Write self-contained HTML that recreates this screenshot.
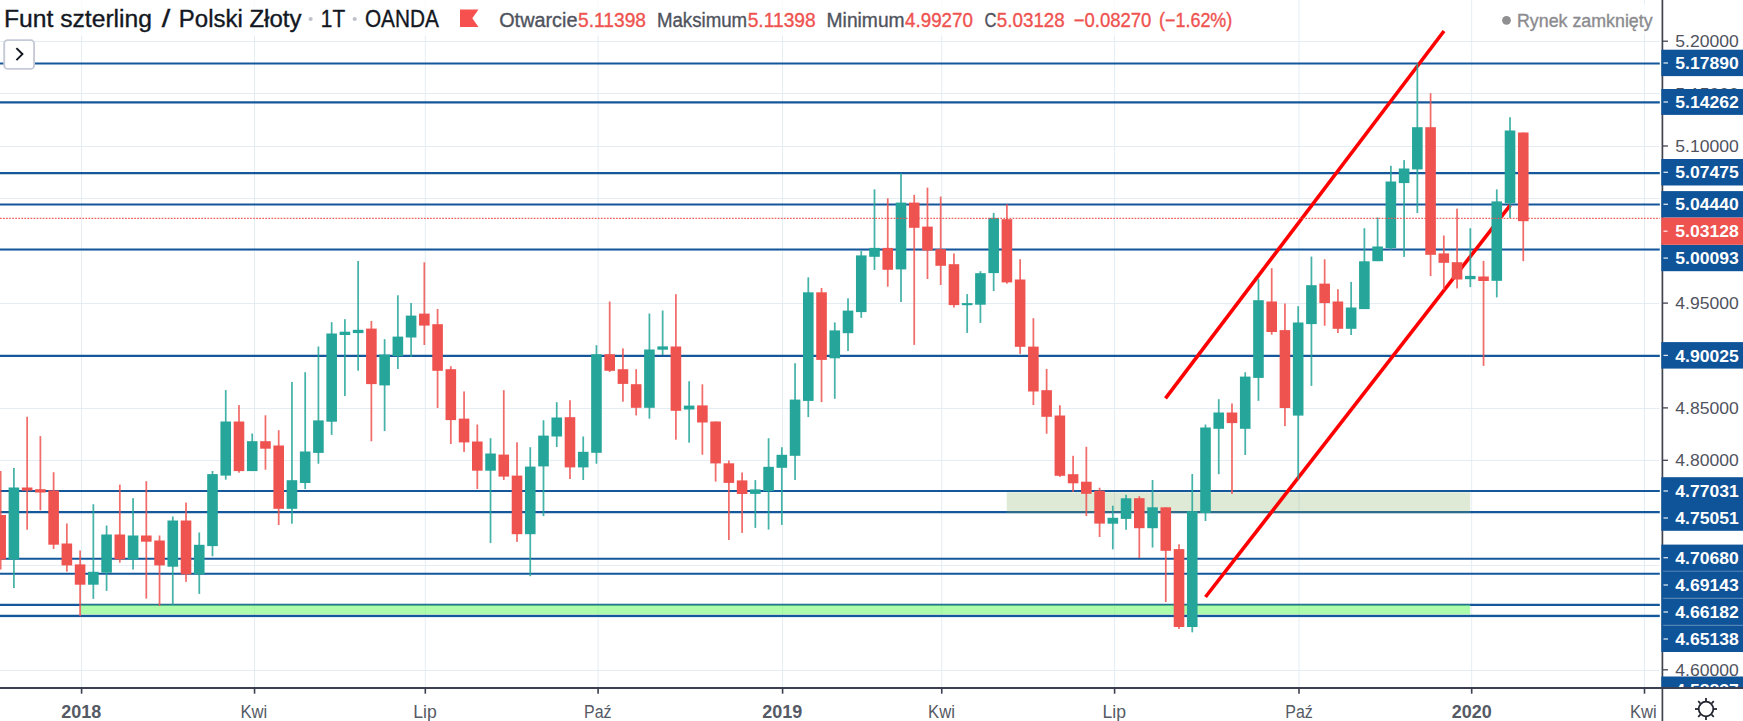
<!DOCTYPE html>
<html lang="pl"><head><meta charset="utf-8"><title>Funt szterling / Polski Złoty</title>
<style>html,body{margin:0;padding:0;background:#fff;overflow:hidden}svg{display:block}text{font-family:"Liberation Sans",sans-serif;}</style></head><body>
<svg width="1743" height="721" viewBox="0 0 1743 721">
<rect width="1743" height="721" fill="#fff"/>
<g stroke="#e4edf4" stroke-width="1">
<line x1="0" y1="41.5" x2="1659.5" y2="41.5"/>
<line x1="0" y1="93.5" x2="1659.5" y2="93.5"/>
<line x1="0" y1="146.5" x2="1659.5" y2="146.5"/>
<line x1="0" y1="198.5" x2="1659.5" y2="198.5"/>
<line x1="0" y1="250.5" x2="1659.5" y2="250.5"/>
<line x1="0" y1="303.5" x2="1659.5" y2="303.5"/>
<line x1="0" y1="355.5" x2="1659.5" y2="355.5"/>
<line x1="0" y1="408.5" x2="1659.5" y2="408.5"/>
<line x1="0" y1="460.5" x2="1659.5" y2="460.5"/>
<line x1="0" y1="512.5" x2="1659.5" y2="512.5"/>
<line x1="0" y1="565.5" x2="1659.5" y2="565.5"/>
<line x1="0" y1="617.5" x2="1659.5" y2="617.5"/>
<line x1="0" y1="670.5" x2="1659.5" y2="670.5"/>
<line x1="81.6" y1="0" x2="81.6" y2="688"/>
<line x1="254.55" y1="0" x2="254.55" y2="688"/>
<line x1="425.3" y1="0" x2="425.3" y2="688"/>
<line x1="598.1" y1="0" x2="598.1" y2="688"/>
<line x1="782.6" y1="0" x2="782.6" y2="688"/>
<line x1="941.75" y1="0" x2="941.75" y2="688"/>
<line x1="1114.6" y1="0" x2="1114.6" y2="688"/>
<line x1="1299.0" y1="0" x2="1299.0" y2="688"/>
<line x1="1471.7" y1="0" x2="1471.7" y2="688"/>
<line x1="1644.5" y1="0" x2="1644.5" y2="688"/>
</g>
<g stroke="#14579b" stroke-width="2.1">
<line x1="0" y1="63.5" x2="1659.8" y2="63.5"/>
<line x1="0" y1="102.4" x2="1659.8" y2="102.4"/>
<line x1="0" y1="173.1" x2="1659.8" y2="173.1"/>
<line x1="0" y1="204.5" x2="1659.8" y2="204.5"/>
<line x1="0" y1="249.5" x2="1659.8" y2="249.5"/>
<line x1="0" y1="355.9" x2="1659.8" y2="355.9"/>
<line x1="0" y1="491.0" x2="1659.8" y2="491.0"/>
<line x1="0" y1="512.1" x2="1659.8" y2="512.1"/>
<line x1="0" y1="558.7" x2="1659.8" y2="558.7"/>
<line x1="0" y1="573.8" x2="1659.8" y2="573.8"/>
<line x1="0" y1="604.9" x2="1659.8" y2="604.9"/>
<line x1="0" y1="615.9" x2="1659.8" y2="615.9"/>
</g>
<rect x="1006.7" y="492.3" width="463.5" height="20.9" fill="rgb(127,171,91)" fill-opacity="0.25"/>
<rect x="81" y="604.7" width="1389.2" height="9.7" fill="rgb(118,248,115)" fill-opacity="0.6"/>
<g stroke="#ff0000" stroke-width="3.6" stroke-linecap="butt">
<line x1="1165.5" y1="398.3" x2="1444" y2="31"/>
<line x1="1205.5" y1="597" x2="1510.3" y2="205.1"/>
</g>
<g>
<rect x="-0.21" y="471.0" width="1.75" height="98.5" fill="#ef5350" fill-opacity="0.85"/><rect x="-4.64" y="515.0" width="10.6" height="44.6" fill="#ef5350"/>
<rect x="13.03" y="468.0" width="1.75" height="120.0" fill="#26a69a" fill-opacity="0.85"/><rect x="8.60" y="487.5" width="10.6" height="72.1" fill="#26a69a"/>
<rect x="26.27" y="416.8" width="1.75" height="112.9" fill="#ef5350" fill-opacity="0.85"/><rect x="21.84" y="487.5" width="10.6" height="3.1" fill="#ef5350"/>
<rect x="39.51" y="436.1" width="1.75" height="74.2" fill="#ef5350" fill-opacity="0.85"/><rect x="35.08" y="489.2" width="10.6" height="3.3" fill="#ef5350"/>
<rect x="52.74" y="472.2" width="1.75" height="76.8" fill="#ef5350" fill-opacity="0.85"/><rect x="48.32" y="490.5" width="10.6" height="54.2" fill="#ef5350"/>
<rect x="65.98" y="523.5" width="1.75" height="48.1" fill="#ef5350" fill-opacity="0.85"/><rect x="61.56" y="543.5" width="10.6" height="21.9" fill="#ef5350"/>
<rect x="79.23" y="550.5" width="1.75" height="65.7" fill="#ef5350" fill-opacity="0.85"/><rect x="74.80" y="564.4" width="10.6" height="20.3" fill="#ef5350"/>
<rect x="92.47" y="504.2" width="1.75" height="94.7" fill="#26a69a" fill-opacity="0.85"/><rect x="88.04" y="571.8" width="10.6" height="12.9" fill="#26a69a"/>
<rect x="105.71" y="525.5" width="1.75" height="65.4" fill="#26a69a" fill-opacity="0.85"/><rect x="101.28" y="534.5" width="10.6" height="38.2" fill="#26a69a"/>
<rect x="118.95" y="484.6" width="1.75" height="78.0" fill="#ef5350" fill-opacity="0.85"/><rect x="114.52" y="534.5" width="10.6" height="24.9" fill="#ef5350"/>
<rect x="132.19" y="498.2" width="1.75" height="71.4" fill="#26a69a" fill-opacity="0.85"/><rect x="127.76" y="535.5" width="10.6" height="23.9" fill="#26a69a"/>
<rect x="145.43" y="481.2" width="1.75" height="117.4" fill="#ef5350" fill-opacity="0.85"/><rect x="141.00" y="535.5" width="10.6" height="6.2" fill="#ef5350"/>
<rect x="158.67" y="535.5" width="1.75" height="70.4" fill="#ef5350" fill-opacity="0.85"/><rect x="154.24" y="540.5" width="10.6" height="24.9" fill="#ef5350"/>
<rect x="171.91" y="516.5" width="1.75" height="88.7" fill="#26a69a" fill-opacity="0.85"/><rect x="167.48" y="520.5" width="10.6" height="46.2" fill="#26a69a"/>
<rect x="185.15" y="502.5" width="1.75" height="79.4" fill="#ef5350" fill-opacity="0.85"/><rect x="180.72" y="520.5" width="10.6" height="53.9" fill="#ef5350"/>
<rect x="198.39" y="532.5" width="1.75" height="61.4" fill="#26a69a" fill-opacity="0.85"/><rect x="193.96" y="544.8" width="10.6" height="29.6" fill="#26a69a"/>
<rect x="211.62" y="471.0" width="1.75" height="85.3" fill="#26a69a" fill-opacity="0.85"/><rect x="207.20" y="474.1" width="10.6" height="72.0" fill="#26a69a"/>
<rect x="224.87" y="390.1" width="1.75" height="89.6" fill="#26a69a" fill-opacity="0.85"/><rect x="220.44" y="421.5" width="10.6" height="54.1" fill="#26a69a"/>
<rect x="238.11" y="405.1" width="1.75" height="67.6" fill="#ef5350" fill-opacity="0.85"/><rect x="233.68" y="421.5" width="10.6" height="49.6" fill="#ef5350"/>
<rect x="251.34" y="433.5" width="1.75" height="37.5" fill="#26a69a" fill-opacity="0.85"/><rect x="246.92" y="441.2" width="10.6" height="29.9" fill="#26a69a"/>
<rect x="264.58" y="415.3" width="1.75" height="54.4" fill="#ef5350" fill-opacity="0.85"/><rect x="260.16" y="441.2" width="10.6" height="7.5" fill="#ef5350"/>
<rect x="277.82" y="430.2" width="1.75" height="94.8" fill="#ef5350" fill-opacity="0.85"/><rect x="273.40" y="445.5" width="10.6" height="63.3" fill="#ef5350"/>
<rect x="291.06" y="382.0" width="1.75" height="141.7" fill="#26a69a" fill-opacity="0.85"/><rect x="286.64" y="480.2" width="10.6" height="28.6" fill="#26a69a"/>
<rect x="304.31" y="372.2" width="1.75" height="116.9" fill="#26a69a" fill-opacity="0.85"/><rect x="299.88" y="451.5" width="10.6" height="31.5" fill="#26a69a"/>
<rect x="317.54" y="346.5" width="1.75" height="117.2" fill="#26a69a" fill-opacity="0.85"/><rect x="313.12" y="420.4" width="10.6" height="32.5" fill="#26a69a"/>
<rect x="330.78" y="322.2" width="1.75" height="112.7" fill="#26a69a" fill-opacity="0.85"/><rect x="326.36" y="333.5" width="10.6" height="88.2" fill="#26a69a"/>
<rect x="344.02" y="319.2" width="1.75" height="76.8" fill="#26a69a" fill-opacity="0.85"/><rect x="339.60" y="331.7" width="10.6" height="3.3" fill="#26a69a"/>
<rect x="357.26" y="261.0" width="1.75" height="109.7" fill="#26a69a" fill-opacity="0.85"/><rect x="352.84" y="329.8" width="10.6" height="3.3" fill="#26a69a"/>
<rect x="370.50" y="321.0" width="1.75" height="120.3" fill="#ef5350" fill-opacity="0.85"/><rect x="366.08" y="328.6" width="10.6" height="55.5" fill="#ef5350"/>
<rect x="383.75" y="339.2" width="1.75" height="91.9" fill="#26a69a" fill-opacity="0.85"/><rect x="379.32" y="354.5" width="10.6" height="30.9" fill="#26a69a"/>
<rect x="396.98" y="295.3" width="1.75" height="73.7" fill="#26a69a" fill-opacity="0.85"/><rect x="392.56" y="336.6" width="10.6" height="19.5" fill="#26a69a"/>
<rect x="410.22" y="303.0" width="1.75" height="54.0" fill="#26a69a" fill-opacity="0.85"/><rect x="405.80" y="315.6" width="10.6" height="21.9" fill="#26a69a"/>
<rect x="423.46" y="262.3" width="1.75" height="82.7" fill="#ef5350" fill-opacity="0.85"/><rect x="419.04" y="313.6" width="10.6" height="12.0" fill="#ef5350"/>
<rect x="436.70" y="309.0" width="1.75" height="99.0" fill="#ef5350" fill-opacity="0.85"/><rect x="432.28" y="324.2" width="10.6" height="46.6" fill="#ef5350"/>
<rect x="449.94" y="366.2" width="1.75" height="77.8" fill="#ef5350" fill-opacity="0.85"/><rect x="445.52" y="369.2" width="10.6" height="50.9" fill="#ef5350"/>
<rect x="463.19" y="391.4" width="1.75" height="60.5" fill="#ef5350" fill-opacity="0.85"/><rect x="458.76" y="418.6" width="10.6" height="23.8" fill="#ef5350"/>
<rect x="476.43" y="424.5" width="1.75" height="64.5" fill="#ef5350" fill-opacity="0.85"/><rect x="472.00" y="441.5" width="10.6" height="29.2" fill="#ef5350"/>
<rect x="489.66" y="438.2" width="1.75" height="104.9" fill="#26a69a" fill-opacity="0.85"/><rect x="485.24" y="453.5" width="10.6" height="17.2" fill="#26a69a"/>
<rect x="502.90" y="390.2" width="1.75" height="89.8" fill="#ef5350" fill-opacity="0.85"/><rect x="498.48" y="454.6" width="10.6" height="22.0" fill="#ef5350"/>
<rect x="516.14" y="442.3" width="1.75" height="99.6" fill="#ef5350" fill-opacity="0.85"/><rect x="511.72" y="475.6" width="10.6" height="58.6" fill="#ef5350"/>
<rect x="529.38" y="447.2" width="1.75" height="129.0" fill="#26a69a" fill-opacity="0.85"/><rect x="524.96" y="466.6" width="10.6" height="67.6" fill="#26a69a"/>
<rect x="542.62" y="420.2" width="1.75" height="95.9" fill="#26a69a" fill-opacity="0.85"/><rect x="538.20" y="435.6" width="10.6" height="30.8" fill="#26a69a"/>
<rect x="555.87" y="402.2" width="1.75" height="44.8" fill="#26a69a" fill-opacity="0.85"/><rect x="551.44" y="417.5" width="10.6" height="19.0" fill="#26a69a"/>
<rect x="569.11" y="400.2" width="1.75" height="78.8" fill="#ef5350" fill-opacity="0.85"/><rect x="564.68" y="417.2" width="10.6" height="50.2" fill="#ef5350"/>
<rect x="582.35" y="436.5" width="1.75" height="43.5" fill="#26a69a" fill-opacity="0.85"/><rect x="577.92" y="451.8" width="10.6" height="15.6" fill="#26a69a"/>
<rect x="595.59" y="345.2" width="1.75" height="118.5" fill="#26a69a" fill-opacity="0.85"/><rect x="591.16" y="354.2" width="10.6" height="98.6" fill="#26a69a"/>
<rect x="608.82" y="301.5" width="1.75" height="70.5" fill="#ef5350" fill-opacity="0.85"/><rect x="604.40" y="354.2" width="10.6" height="16.6" fill="#ef5350"/>
<rect x="622.06" y="348.4" width="1.75" height="53.3" fill="#ef5350" fill-opacity="0.85"/><rect x="617.64" y="369.2" width="10.6" height="14.7" fill="#ef5350"/>
<rect x="635.30" y="369.2" width="1.75" height="46.2" fill="#ef5350" fill-opacity="0.85"/><rect x="630.88" y="384.2" width="10.6" height="23.6" fill="#ef5350"/>
<rect x="648.54" y="313.5" width="1.75" height="105.2" fill="#26a69a" fill-opacity="0.85"/><rect x="644.12" y="349.5" width="10.6" height="58.3" fill="#26a69a"/>
<rect x="661.78" y="310.5" width="1.75" height="44.6" fill="#26a69a" fill-opacity="0.85"/><rect x="657.36" y="346.4" width="10.6" height="3.3" fill="#26a69a"/>
<rect x="675.02" y="294.2" width="1.75" height="145.5" fill="#ef5350" fill-opacity="0.85"/><rect x="670.60" y="346.5" width="10.6" height="64.3" fill="#ef5350"/>
<rect x="688.26" y="381.2" width="1.75" height="61.5" fill="#26a69a" fill-opacity="0.85"/><rect x="683.84" y="405.6" width="10.6" height="3.9" fill="#26a69a"/>
<rect x="701.50" y="384.3" width="1.75" height="70.4" fill="#ef5350" fill-opacity="0.85"/><rect x="697.08" y="405.4" width="10.6" height="17.1" fill="#ef5350"/>
<rect x="714.75" y="421.5" width="1.75" height="60.1" fill="#ef5350" fill-opacity="0.85"/><rect x="710.32" y="421.5" width="10.6" height="41.9" fill="#ef5350"/>
<rect x="727.99" y="460.5" width="1.75" height="79.5" fill="#ef5350" fill-opacity="0.85"/><rect x="723.56" y="463.3" width="10.6" height="19.6" fill="#ef5350"/>
<rect x="741.23" y="472.5" width="1.75" height="60.4" fill="#ef5350" fill-opacity="0.85"/><rect x="736.80" y="480.4" width="10.6" height="13.6" fill="#ef5350"/>
<rect x="754.47" y="480.1" width="1.75" height="47.8" fill="#26a69a" fill-opacity="0.85"/><rect x="750.04" y="489.4" width="10.6" height="4.5" fill="#26a69a"/>
<rect x="767.71" y="438.2" width="1.75" height="91.4" fill="#26a69a" fill-opacity="0.85"/><rect x="763.28" y="466.8" width="10.6" height="24.3" fill="#26a69a"/>
<rect x="780.94" y="447.2" width="1.75" height="77.7" fill="#26a69a" fill-opacity="0.85"/><rect x="776.52" y="454.8" width="10.6" height="13.0" fill="#26a69a"/>
<rect x="794.18" y="363.2" width="1.75" height="116.8" fill="#26a69a" fill-opacity="0.85"/><rect x="789.76" y="399.6" width="10.6" height="56.2" fill="#26a69a"/>
<rect x="807.42" y="277.3" width="1.75" height="139.8" fill="#26a69a" fill-opacity="0.85"/><rect x="803.00" y="292.3" width="10.6" height="108.6" fill="#26a69a"/>
<rect x="820.66" y="288.0" width="1.75" height="114.1" fill="#ef5350" fill-opacity="0.85"/><rect x="816.24" y="292.3" width="10.6" height="67.6" fill="#ef5350"/>
<rect x="833.90" y="322.4" width="1.75" height="76.4" fill="#26a69a" fill-opacity="0.85"/><rect x="829.48" y="330.4" width="10.6" height="27.9" fill="#26a69a"/>
<rect x="847.14" y="298.3" width="1.75" height="52.7" fill="#26a69a" fill-opacity="0.85"/><rect x="842.72" y="310.6" width="10.6" height="22.6" fill="#26a69a"/>
<rect x="860.38" y="250.9" width="1.75" height="67.0" fill="#26a69a" fill-opacity="0.85"/><rect x="855.96" y="255.4" width="10.6" height="56.7" fill="#26a69a"/>
<rect x="873.62" y="189.3" width="1.75" height="80.7" fill="#26a69a" fill-opacity="0.85"/><rect x="869.20" y="247.9" width="10.6" height="8.9" fill="#26a69a"/>
<rect x="886.87" y="198.3" width="1.75" height="88.4" fill="#ef5350" fill-opacity="0.85"/><rect x="882.44" y="247.9" width="10.6" height="21.9" fill="#ef5350"/>
<rect x="900.11" y="173.3" width="1.75" height="128.7" fill="#26a69a" fill-opacity="0.85"/><rect x="895.68" y="202.6" width="10.6" height="66.8" fill="#26a69a"/>
<rect x="913.35" y="194.9" width="1.75" height="150.0" fill="#ef5350" fill-opacity="0.85"/><rect x="908.92" y="202.6" width="10.6" height="25.2" fill="#ef5350"/>
<rect x="926.59" y="187.6" width="1.75" height="91.4" fill="#ef5350" fill-opacity="0.85"/><rect x="922.16" y="226.6" width="10.6" height="23.9" fill="#ef5350"/>
<rect x="939.83" y="196.6" width="1.75" height="88.4" fill="#ef5350" fill-opacity="0.85"/><rect x="935.40" y="249.2" width="10.6" height="16.6" fill="#ef5350"/>
<rect x="953.06" y="253.5" width="1.75" height="54.1" fill="#ef5350" fill-opacity="0.85"/><rect x="948.64" y="264.2" width="10.6" height="40.9" fill="#ef5350"/>
<rect x="966.30" y="294.1" width="1.75" height="38.8" fill="#26a69a" fill-opacity="0.85"/><rect x="961.88" y="303.1" width="10.6" height="2.1" fill="#26a69a"/>
<rect x="979.54" y="271.2" width="1.75" height="51.7" fill="#26a69a" fill-opacity="0.85"/><rect x="975.12" y="273.2" width="10.6" height="31.5" fill="#26a69a"/>
<rect x="992.78" y="212.9" width="1.75" height="78.1" fill="#26a69a" fill-opacity="0.85"/><rect x="988.36" y="217.9" width="10.6" height="55.2" fill="#26a69a"/>
<rect x="1006.02" y="204.3" width="1.75" height="79.4" fill="#ef5350" fill-opacity="0.85"/><rect x="1001.60" y="219.2" width="10.6" height="63.2" fill="#ef5350"/>
<rect x="1019.26" y="259.2" width="1.75" height="94.7" fill="#ef5350" fill-opacity="0.85"/><rect x="1014.84" y="279.5" width="10.6" height="67.3" fill="#ef5350"/>
<rect x="1032.51" y="318.2" width="1.75" height="86.8" fill="#ef5350" fill-opacity="0.85"/><rect x="1028.08" y="346.6" width="10.6" height="44.9" fill="#ef5350"/>
<rect x="1045.75" y="368.9" width="1.75" height="64.8" fill="#ef5350" fill-opacity="0.85"/><rect x="1041.32" y="390.2" width="10.6" height="26.6" fill="#ef5350"/>
<rect x="1058.99" y="405.2" width="1.75" height="71.7" fill="#ef5350" fill-opacity="0.85"/><rect x="1054.56" y="415.5" width="10.6" height="60.3" fill="#ef5350"/>
<rect x="1072.23" y="455.8" width="1.75" height="36.1" fill="#ef5350" fill-opacity="0.85"/><rect x="1067.80" y="474.2" width="10.6" height="9.1" fill="#ef5350"/>
<rect x="1085.47" y="446.8" width="1.75" height="69.2" fill="#ef5350" fill-opacity="0.85"/><rect x="1081.04" y="481.7" width="10.6" height="12.1" fill="#ef5350"/>
<rect x="1098.71" y="487.7" width="1.75" height="49.3" fill="#ef5350" fill-opacity="0.85"/><rect x="1094.28" y="490.7" width="10.6" height="32.9" fill="#ef5350"/>
<rect x="1111.95" y="505.7" width="1.75" height="43.6" fill="#26a69a" fill-opacity="0.85"/><rect x="1107.52" y="517.8" width="10.6" height="5.9" fill="#26a69a"/>
<rect x="1125.19" y="494.8" width="1.75" height="35.0" fill="#26a69a" fill-opacity="0.85"/><rect x="1120.76" y="498.3" width="10.6" height="20.6" fill="#26a69a"/>
<rect x="1138.43" y="496.2" width="1.75" height="61.8" fill="#ef5350" fill-opacity="0.85"/><rect x="1134.00" y="498.2" width="10.6" height="30.0" fill="#ef5350"/>
<rect x="1151.67" y="480.0" width="1.75" height="67.5" fill="#26a69a" fill-opacity="0.85"/><rect x="1147.24" y="507.3" width="10.6" height="20.9" fill="#26a69a"/>
<rect x="1164.91" y="507.3" width="1.75" height="94.7" fill="#ef5350" fill-opacity="0.85"/><rect x="1160.48" y="507.3" width="10.6" height="43.5" fill="#ef5350"/>
<rect x="1178.15" y="544.3" width="1.75" height="84.6" fill="#ef5350" fill-opacity="0.85"/><rect x="1173.72" y="549.1" width="10.6" height="77.9" fill="#ef5350"/>
<rect x="1191.39" y="474.0" width="1.75" height="158.3" fill="#26a69a" fill-opacity="0.85"/><rect x="1186.96" y="511.2" width="10.6" height="115.8" fill="#26a69a"/>
<rect x="1204.62" y="424.5" width="1.75" height="96.5" fill="#26a69a" fill-opacity="0.85"/><rect x="1200.20" y="427.5" width="10.6" height="85.5" fill="#26a69a"/>
<rect x="1217.87" y="399.2" width="1.75" height="75.0" fill="#26a69a" fill-opacity="0.85"/><rect x="1213.44" y="412.5" width="10.6" height="16.3" fill="#26a69a"/>
<rect x="1231.11" y="403.5" width="1.75" height="90.4" fill="#ef5350" fill-opacity="0.85"/><rect x="1226.68" y="412.5" width="10.6" height="10.6" fill="#ef5350"/>
<rect x="1244.35" y="372.3" width="1.75" height="82.7" fill="#26a69a" fill-opacity="0.85"/><rect x="1239.92" y="376.6" width="10.6" height="52.2" fill="#26a69a"/>
<rect x="1257.59" y="279.2" width="1.75" height="121.6" fill="#26a69a" fill-opacity="0.85"/><rect x="1253.16" y="300.2" width="10.6" height="77.7" fill="#26a69a"/>
<rect x="1270.83" y="268.2" width="1.75" height="66.5" fill="#ef5350" fill-opacity="0.85"/><rect x="1266.40" y="301.5" width="10.6" height="30.5" fill="#ef5350"/>
<rect x="1284.07" y="303.5" width="1.75" height="122.6" fill="#ef5350" fill-opacity="0.85"/><rect x="1279.64" y="330.1" width="10.6" height="77.9" fill="#ef5350"/>
<rect x="1297.31" y="306.2" width="1.75" height="173.3" fill="#26a69a" fill-opacity="0.85"/><rect x="1292.88" y="322.5" width="10.6" height="93.1" fill="#26a69a"/>
<rect x="1310.55" y="256.6" width="1.75" height="129.3" fill="#26a69a" fill-opacity="0.85"/><rect x="1306.12" y="285.2" width="10.6" height="38.9" fill="#26a69a"/>
<rect x="1323.79" y="259.3" width="1.75" height="66.4" fill="#ef5350" fill-opacity="0.85"/><rect x="1319.36" y="283.6" width="10.6" height="19.5" fill="#ef5350"/>
<rect x="1337.03" y="289.2" width="1.75" height="43.8" fill="#ef5350" fill-opacity="0.85"/><rect x="1332.60" y="301.5" width="10.6" height="27.3" fill="#ef5350"/>
<rect x="1350.27" y="281.9" width="1.75" height="53.1" fill="#26a69a" fill-opacity="0.85"/><rect x="1345.84" y="307.5" width="10.6" height="21.3" fill="#26a69a"/>
<rect x="1363.51" y="228.2" width="1.75" height="80.8" fill="#26a69a" fill-opacity="0.85"/><rect x="1359.08" y="261.3" width="10.6" height="47.8" fill="#26a69a"/>
<rect x="1376.75" y="217.4" width="1.75" height="43.7" fill="#26a69a" fill-opacity="0.85"/><rect x="1372.32" y="246.5" width="10.6" height="14.7" fill="#26a69a"/>
<rect x="1389.99" y="165.8" width="1.75" height="84.0" fill="#26a69a" fill-opacity="0.85"/><rect x="1385.56" y="181.5" width="10.6" height="66.6" fill="#26a69a"/>
<rect x="1403.23" y="160.1" width="1.75" height="96.8" fill="#26a69a" fill-opacity="0.85"/><rect x="1398.80" y="168.5" width="10.6" height="14.6" fill="#26a69a"/>
<rect x="1416.47" y="63.3" width="1.75" height="149.7" fill="#26a69a" fill-opacity="0.85"/><rect x="1412.04" y="127.2" width="10.6" height="42.2" fill="#26a69a"/>
<rect x="1429.71" y="93.2" width="1.75" height="182.9" fill="#ef5350" fill-opacity="0.85"/><rect x="1425.28" y="127.2" width="10.6" height="127.6" fill="#ef5350"/>
<rect x="1442.95" y="235.5" width="1.75" height="54.2" fill="#ef5350" fill-opacity="0.85"/><rect x="1438.52" y="253.4" width="10.6" height="9.4" fill="#ef5350"/>
<rect x="1456.19" y="208.7" width="1.75" height="79.7" fill="#ef5350" fill-opacity="0.85"/><rect x="1451.76" y="262.2" width="10.6" height="17.3" fill="#ef5350"/>
<rect x="1469.43" y="228.2" width="1.75" height="58.9" fill="#26a69a" fill-opacity="0.85"/><rect x="1465.00" y="275.9" width="10.6" height="3.3" fill="#26a69a"/>
<rect x="1482.67" y="260.9" width="1.75" height="105.0" fill="#ef5350" fill-opacity="0.85"/><rect x="1478.24" y="276.5" width="10.6" height="4.5" fill="#ef5350"/>
<rect x="1495.91" y="189.4" width="1.75" height="108.0" fill="#26a69a" fill-opacity="0.85"/><rect x="1491.48" y="201.4" width="10.6" height="79.4" fill="#26a69a"/>
<rect x="1509.15" y="117.2" width="1.75" height="100.8" fill="#26a69a" fill-opacity="0.85"/><rect x="1504.72" y="130.5" width="10.6" height="72.8" fill="#26a69a"/>
<rect x="1522.39" y="132.5" width="1.75" height="128.6" fill="#ef5350" fill-opacity="0.85"/><rect x="1517.96" y="132.5" width="10.6" height="88.7" fill="#ef5350"/>
</g>
<line x1="0" y1="218.4" x2="1659.8" y2="218.4" stroke="#ef5350" stroke-width="1.3" stroke-dasharray="1.7 1.35" stroke-opacity="0.92"/>
<rect x="0" y="688" width="1743" height="33" fill="#fff"/>
<rect x="1661.3" y="0" width="82" height="688" fill="#fff"/>
<line x1="1662" y1="41.2" x2="1668" y2="41.2" stroke="#40444f" stroke-width="1.3"/>
<text x="1675.3" y="47.3" font-size="17.4"  fill="#50535e" textLength="63.5" lengthAdjust="spacingAndGlyphs">5.20000</text>
<line x1="1662" y1="93.6" x2="1668" y2="93.6" stroke="#40444f" stroke-width="1.3"/>
<text x="1675.3" y="99.7" font-size="17.4"  fill="#50535e" textLength="63.5" lengthAdjust="spacingAndGlyphs">5.15000</text>
<line x1="1662" y1="146.0" x2="1668" y2="146.0" stroke="#40444f" stroke-width="1.3"/>
<text x="1675.3" y="152.1" font-size="17.4"  fill="#50535e" textLength="63.5" lengthAdjust="spacingAndGlyphs">5.10000</text>
<line x1="1662" y1="198.4" x2="1668" y2="198.4" stroke="#40444f" stroke-width="1.3"/>
<text x="1675.3" y="204.5" font-size="17.4"  fill="#50535e" textLength="63.5" lengthAdjust="spacingAndGlyphs">5.05000</text>
<line x1="1662" y1="250.7" x2="1668" y2="250.7" stroke="#40444f" stroke-width="1.3"/>
<text x="1675.3" y="256.8" font-size="17.4"  fill="#50535e" textLength="63.5" lengthAdjust="spacingAndGlyphs">5.00000</text>
<line x1="1662" y1="303.1" x2="1668" y2="303.1" stroke="#40444f" stroke-width="1.3"/>
<text x="1675.3" y="309.2" font-size="17.4"  fill="#50535e" textLength="63.5" lengthAdjust="spacingAndGlyphs">4.95000</text>
<line x1="1662" y1="355.5" x2="1668" y2="355.5" stroke="#40444f" stroke-width="1.3"/>
<text x="1675.3" y="361.6" font-size="17.4"  fill="#50535e" textLength="63.5" lengthAdjust="spacingAndGlyphs">4.90000</text>
<line x1="1662" y1="407.9" x2="1668" y2="407.9" stroke="#40444f" stroke-width="1.3"/>
<text x="1675.3" y="414.0" font-size="17.4"  fill="#50535e" textLength="63.5" lengthAdjust="spacingAndGlyphs">4.85000</text>
<line x1="1662" y1="460.3" x2="1668" y2="460.3" stroke="#40444f" stroke-width="1.3"/>
<text x="1675.3" y="466.4" font-size="17.4"  fill="#50535e" textLength="63.5" lengthAdjust="spacingAndGlyphs">4.80000</text>
<line x1="1662" y1="512.7" x2="1668" y2="512.7" stroke="#40444f" stroke-width="1.3"/>
<text x="1675.3" y="518.8" font-size="17.4"  fill="#50535e" textLength="63.5" lengthAdjust="spacingAndGlyphs">4.75000</text>
<line x1="1662" y1="565.1" x2="1668" y2="565.1" stroke="#40444f" stroke-width="1.3"/>
<text x="1675.3" y="571.2" font-size="17.4"  fill="#50535e" textLength="63.5" lengthAdjust="spacingAndGlyphs">4.70000</text>
<line x1="1662" y1="617.4" x2="1668" y2="617.4" stroke="#40444f" stroke-width="1.3"/>
<text x="1675.3" y="623.5" font-size="17.4"  fill="#50535e" textLength="63.5" lengthAdjust="spacingAndGlyphs">4.65000</text>
<line x1="1662" y1="669.8" x2="1668" y2="669.8" stroke="#40444f" stroke-width="1.3"/>
<text x="1675.3" y="675.9" font-size="17.4"  fill="#50535e" textLength="63.5" lengthAdjust="spacingAndGlyphs">4.60000</text>
<line x1="1662.4" y1="0" x2="1662.4" y2="721" stroke="#40444f" stroke-width="1.7"/>
<rect x="1661.3" y="49.7" width="82" height="26.4" fill="#0f5499"/>
<rect x="1661.3" y="89" width="82" height="25.9" fill="#0f5499"/>
<rect x="1661.3" y="159" width="82" height="26.5" fill="#0f5499"/>
<rect x="1661.3" y="191.1" width="82" height="26.5" fill="#0f5499"/>
<rect x="1661.3" y="244.8" width="82" height="26.4" fill="#0f5499"/>
<rect x="1661.3" y="342.1" width="82" height="26.5" fill="#0f5499"/>
<rect x="1661.3" y="477.2" width="82" height="26.8" fill="#0f5499"/>
<rect x="1661.3" y="504" width="82" height="26.8" fill="#0f5499"/>
<rect x="1661.3" y="544.6" width="82" height="26.5" fill="#0f5499"/>
<rect x="1661.3" y="571.1" width="82" height="27.1" fill="#0f5499"/>
<rect x="1661.3" y="598.2" width="82" height="27.0" fill="#0f5499"/>
<rect x="1661.3" y="625.2" width="82" height="26.8" fill="#0f5499"/>
<rect x="1661.3" y="676.5" width="82" height="11.5" fill="#0f5499"/>
<line x1="1663" y1="571.1" x2="1743" y2="571.1" stroke="#fff" stroke-opacity="0.22" stroke-width="1"/>
<line x1="1663" y1="598.2" x2="1743" y2="598.2" stroke="#fff" stroke-opacity="0.22" stroke-width="1"/>
<line x1="1663" y1="625.2" x2="1743" y2="625.2" stroke="#fff" stroke-opacity="0.22" stroke-width="1"/>
<line x1="1663.5" y1="63.0" x2="1668" y2="63.0" stroke="#fff" stroke-opacity="0.85" stroke-width="1.3"/>
<text x="1675.3" y="69.1" font-size="17.4" font-weight="700" fill="#fff" textLength="63.5" lengthAdjust="spacingAndGlyphs">5.17890</text>
<line x1="1663.5" y1="102.0" x2="1668" y2="102.0" stroke="#fff" stroke-opacity="0.85" stroke-width="1.3"/>
<text x="1675.3" y="108.1" font-size="17.4" font-weight="700" fill="#fff" textLength="63.5" lengthAdjust="spacingAndGlyphs">5.14262</text>
<line x1="1663.5" y1="172.3" x2="1668" y2="172.3" stroke="#fff" stroke-opacity="0.85" stroke-width="1.3"/>
<text x="1675.3" y="178.4" font-size="17.4" font-weight="700" fill="#fff" textLength="63.5" lengthAdjust="spacingAndGlyphs">5.07475</text>
<line x1="1663.5" y1="204.3" x2="1668" y2="204.3" stroke="#fff" stroke-opacity="0.85" stroke-width="1.3"/>
<text x="1675.3" y="210.4" font-size="17.4" font-weight="700" fill="#fff" textLength="63.5" lengthAdjust="spacingAndGlyphs">5.04440</text>
<line x1="1663.5" y1="258.1" x2="1668" y2="258.1" stroke="#fff" stroke-opacity="0.85" stroke-width="1.3"/>
<text x="1675.3" y="264.2" font-size="17.4" font-weight="700" fill="#fff" textLength="63.5" lengthAdjust="spacingAndGlyphs">5.00093</text>
<line x1="1663.5" y1="355.4" x2="1668" y2="355.4" stroke="#fff" stroke-opacity="0.85" stroke-width="1.3"/>
<text x="1675.3" y="361.5" font-size="17.4" font-weight="700" fill="#fff" textLength="63.5" lengthAdjust="spacingAndGlyphs">4.90025</text>
<line x1="1663.5" y1="491.0" x2="1668" y2="491.0" stroke="#fff" stroke-opacity="0.85" stroke-width="1.3"/>
<text x="1675.3" y="497.1" font-size="17.4" font-weight="700" fill="#fff" textLength="63.5" lengthAdjust="spacingAndGlyphs">4.77031</text>
<line x1="1663.5" y1="518.0" x2="1668" y2="518.0" stroke="#fff" stroke-opacity="0.85" stroke-width="1.3"/>
<text x="1675.3" y="524.1" font-size="17.4" font-weight="700" fill="#fff" textLength="63.5" lengthAdjust="spacingAndGlyphs">4.75051</text>
<line x1="1663.5" y1="557.7" x2="1668" y2="557.7" stroke="#fff" stroke-opacity="0.85" stroke-width="1.3"/>
<text x="1675.3" y="563.8" font-size="17.4" font-weight="700" fill="#fff" textLength="63.5" lengthAdjust="spacingAndGlyphs">4.70680</text>
<line x1="1663.5" y1="585.0" x2="1668" y2="585.0" stroke="#fff" stroke-opacity="0.85" stroke-width="1.3"/>
<text x="1675.3" y="591.1" font-size="17.4" font-weight="700" fill="#fff" textLength="63.5" lengthAdjust="spacingAndGlyphs">4.69143</text>
<line x1="1663.5" y1="612.0" x2="1668" y2="612.0" stroke="#fff" stroke-opacity="0.85" stroke-width="1.3"/>
<text x="1675.3" y="618.1" font-size="17.4" font-weight="700" fill="#fff" textLength="63.5" lengthAdjust="spacingAndGlyphs">4.66182</text>
<line x1="1663.5" y1="639.0" x2="1668" y2="639.0" stroke="#fff" stroke-opacity="0.85" stroke-width="1.3"/>
<text x="1675.3" y="645.1" font-size="17.4" font-weight="700" fill="#fff" textLength="63.5" lengthAdjust="spacingAndGlyphs">4.65138</text>
<clipPath id="cb"><rect x="1661" y="676" width="82" height="11.6"/></clipPath><g clip-path="url(#cb)">
<text x="1675.3" y="696.1" font-size="17.4" font-weight="700" fill="#fff" textLength="63.5" lengthAdjust="spacingAndGlyphs">4.58837</text>
</g>
<rect x="1661.3" y="217.6" width="82" height="27.2" fill="#ef5350"/>
<line x1="1663.5" y1="231.2" x2="1667.5" y2="231.2" stroke="#fff" stroke-opacity="0.85" stroke-width="1.3"/>
<text x="1675.3" y="237.3" font-size="17.4" font-weight="700" fill="#fff" textLength="63.5" lengthAdjust="spacingAndGlyphs">5.03128</text>
<line x1="0" y1="688.0" x2="1743" y2="688.0" stroke="#3b3f4f" stroke-width="2"/>
<line x1="81.6" y1="688" x2="81.6" y2="693.7" stroke="#3b3f4f" stroke-width="1.6"/>
<text x="81.3" y="717.9" font-size="17.5" font-weight="700" fill="#555a64" text-anchor="middle" textLength="40" lengthAdjust="spacingAndGlyphs">2018</text>
<line x1="254.55" y1="688" x2="254.55" y2="693.7" stroke="#3b3f4f" stroke-width="1.6"/>
<text x="253.8" y="717.9" font-size="17.5"  fill="#555a64" text-anchor="middle" textLength="26.8" lengthAdjust="spacingAndGlyphs">Kwi</text>
<line x1="425.3" y1="688" x2="425.3" y2="693.7" stroke="#3b3f4f" stroke-width="1.6"/>
<text x="425" y="717.9" font-size="17.5"  fill="#555a64" text-anchor="middle" textLength="23.5" lengthAdjust="spacingAndGlyphs">Lip</text>
<line x1="598.1" y1="688" x2="598.1" y2="693.7" stroke="#3b3f4f" stroke-width="1.6"/>
<text x="597.8" y="717.9" font-size="17.5"  fill="#555a64" text-anchor="middle" textLength="27.5" lengthAdjust="spacingAndGlyphs">Paź</text>
<line x1="782.6" y1="688" x2="782.6" y2="693.7" stroke="#3b3f4f" stroke-width="1.6"/>
<text x="782.2" y="717.9" font-size="17.5" font-weight="700" fill="#555a64" text-anchor="middle" textLength="40" lengthAdjust="spacingAndGlyphs">2019</text>
<line x1="941.75" y1="688" x2="941.75" y2="693.7" stroke="#3b3f4f" stroke-width="1.6"/>
<text x="941.5" y="717.9" font-size="17.5"  fill="#555a64" text-anchor="middle" textLength="26.8" lengthAdjust="spacingAndGlyphs">Kwi</text>
<line x1="1114.6" y1="688" x2="1114.6" y2="693.7" stroke="#3b3f4f" stroke-width="1.6"/>
<text x="1114.2" y="717.9" font-size="17.5"  fill="#555a64" text-anchor="middle" textLength="23.5" lengthAdjust="spacingAndGlyphs">Lip</text>
<line x1="1299.0" y1="688" x2="1299.0" y2="693.7" stroke="#3b3f4f" stroke-width="1.6"/>
<text x="1299" y="717.9" font-size="17.5"  fill="#555a64" text-anchor="middle" textLength="27.5" lengthAdjust="spacingAndGlyphs">Paź</text>
<line x1="1471.7" y1="688" x2="1471.7" y2="693.7" stroke="#3b3f4f" stroke-width="1.6"/>
<text x="1471.7" y="717.9" font-size="17.5" font-weight="700" fill="#555a64" text-anchor="middle" textLength="40" lengthAdjust="spacingAndGlyphs">2020</text>
<line x1="1644.5" y1="688" x2="1644.5" y2="693.7" stroke="#3b3f4f" stroke-width="1.6"/>
<text x="1643.3" y="717.9" font-size="17.5"  fill="#555a64" text-anchor="middle" textLength="26.8" lengthAdjust="spacingAndGlyphs">Kwi</text>
<g stroke="#1e222d" stroke-width="1.75" fill="none" stroke-linecap="butt">
<circle cx="1706" cy="709" r="7.3"/>
<line x1="1714.00" y1="709.00" x2="1717.00" y2="709.00"/>
<line x1="1711.66" y1="714.66" x2="1713.78" y2="716.78"/>
<line x1="1706.00" y1="717.00" x2="1706.00" y2="720.00"/>
<line x1="1700.34" y1="714.66" x2="1698.22" y2="716.78"/>
<line x1="1698.00" y1="709.00" x2="1695.00" y2="709.00"/>
<line x1="1700.34" y1="703.34" x2="1698.22" y2="701.22"/>
<line x1="1706.00" y1="701.00" x2="1706.00" y2="698.00"/>
<line x1="1711.66" y1="703.34" x2="1713.78" y2="701.22"/>
</g>
<rect x="0" y="0" width="1240" height="36" fill="#fff" fill-opacity="0.75"/>
<rect x="1495" y="4" width="162" height="30" fill="#fff" fill-opacity="0.75"/>
<text x="4.0" y="26.8" font-size="23"  fill="#131722" stroke="#131722" stroke-width="0.35" text-anchor="start" textLength="148" lengthAdjust="spacingAndGlyphs">Funt szterling</text>
<text x="161.8" y="26.8" font-size="23"  fill="#131722" stroke="#131722" stroke-width="0.35" text-anchor="start" textLength="8.5" lengthAdjust="spacingAndGlyphs">/</text>
<text x="178.8" y="26.8" font-size="23"  fill="#131722" stroke="#131722" stroke-width="0.35" text-anchor="start" textLength="122.6" lengthAdjust="spacingAndGlyphs">Polski Złoty</text>
<circle cx="310.6" cy="19" r="2.1" fill="#bfc2cb"/>
<text x="320.8" y="26.8" font-size="23"  fill="#131722" stroke="#131722" stroke-width="0.35" text-anchor="start" textLength="24.3" lengthAdjust="spacingAndGlyphs">1T</text>
<circle cx="354.7" cy="19" r="2.1" fill="#bfc2cb"/>
<text x="364.9" y="26.8" font-size="23"  fill="#131722" stroke="#131722" stroke-width="0.35" text-anchor="start" textLength="74" lengthAdjust="spacingAndGlyphs">OANDA</text>
<path d="M460 9.6 H478.5 L472.3 18.2 L478.5 26.9 H460 Z" fill="#f7514f"/>
<text x="499.2" y="27.0" font-size="19.6"  fill="#4f535e" stroke="#4f535e" stroke-width="0.35" text-anchor="start" textLength="78.3" lengthAdjust="spacingAndGlyphs">Otwarcie</text>
<text x="578" y="27.0" font-size="19.6"  fill="#ef5350" stroke="#ef5350" stroke-width="0.35" text-anchor="start" textLength="68" lengthAdjust="spacingAndGlyphs">5.11398</text>
<text x="656.9" y="27.0" font-size="19.6"  fill="#4f535e" stroke="#4f535e" stroke-width="0.35" text-anchor="start" textLength="90.3" lengthAdjust="spacingAndGlyphs">Maksimum</text>
<text x="747.7" y="27.0" font-size="19.6"  fill="#ef5350" stroke="#ef5350" stroke-width="0.35" text-anchor="start" textLength="68" lengthAdjust="spacingAndGlyphs">5.11398</text>
<text x="826.6" y="27.0" font-size="19.6"  fill="#4f535e" stroke="#4f535e" stroke-width="0.35" text-anchor="start" textLength="78" lengthAdjust="spacingAndGlyphs">Minimum</text>
<text x="905" y="27.0" font-size="19.6"  fill="#ef5350" stroke="#ef5350" stroke-width="0.35" text-anchor="start" textLength="68" lengthAdjust="spacingAndGlyphs">4.99270</text>
<text x="984.6" y="27.0" font-size="19.6"  fill="#4f535e" stroke="#4f535e" stroke-width="0.35" text-anchor="start" textLength="12" lengthAdjust="spacingAndGlyphs">C</text>
<text x="996.8" y="27.0" font-size="19.6"  fill="#ef5350" stroke="#ef5350" stroke-width="0.35" text-anchor="start" textLength="68" lengthAdjust="spacingAndGlyphs">5.03128</text>
<text x="1073.7" y="27.0" font-size="19.6"  fill="#ef5350" stroke="#ef5350" stroke-width="0.35" text-anchor="start" textLength="77.6" lengthAdjust="spacingAndGlyphs">−0.08270</text>
<text x="1159" y="27.0" font-size="19.6"  fill="#ef5350" stroke="#ef5350" stroke-width="0.35" text-anchor="start" textLength="73.3" lengthAdjust="spacingAndGlyphs">(−1.62%)</text>
<circle cx="1506.5" cy="20.3" r="4.4" fill="#8f8f92"/>
<text x="1517" y="27.1" font-size="17.8"  fill="#8b8b8f" stroke="#8b8b8f" stroke-width="0.35" text-anchor="start" textLength="135.6" lengthAdjust="spacingAndGlyphs">Rynek zamknięty</text>
<rect x="4.2" y="40.1" width="29.9" height="28.8" rx="3.5" fill="#fff" stroke="#c6cad7" stroke-width="1.9"/>
<path d="M16.4 48.1 L22.4 54.1 L16.4 60.1" fill="none" stroke="#131722" stroke-width="2"/>
</svg></body></html>
